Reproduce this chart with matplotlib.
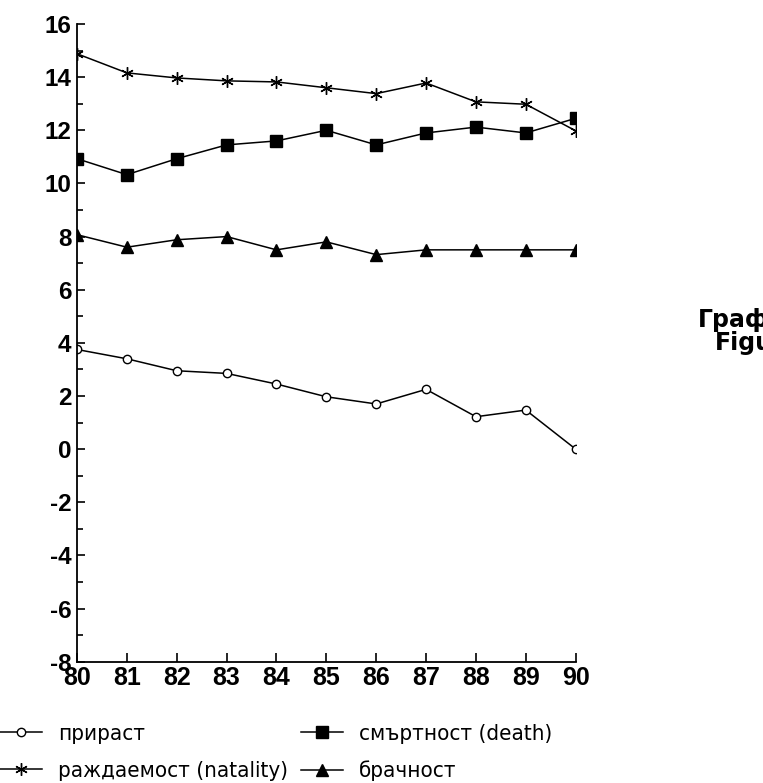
#!/usr/bin/env python3
import matplotlib
matplotlib.use("Agg")
import matplotlib.pyplot as plt
from matplotlib import font_manager as fm
from matplotlib.ticker import MultipleLocator

years = [80, 81, 82, 83, 84, 85, 86, 87, 88, 89, 90]
growth = [3.75, 3.4, 2.95, 2.85, 2.45, 1.97, 1.7, 2.25, 1.22, 1.47, 0.0]
natality = [14.88, 14.16, 13.97, 13.86, 13.82, 13.6, 13.38, 13.78, 13.07, 12.98, 11.98]
death = [10.93, 10.33, 10.93, 11.45, 11.6, 12.0, 11.45, 11.9, 12.12, 11.9, 12.45]
marriage = [8.07, 7.6, 7.88, 8.0, 7.5, 7.8, 7.32, 7.5, 7.5, 7.5, 7.5]

labels = ["прираст", "раждаемост (natality)", "смъртност (death)", "брачност"]
side_text = ["График", "Figure"]

plt.rcParams["axes.unicode_minus"] = False

# look for a narrow sans for the legend, the original text is condensed
legend_prop = {"family": "Liberation Sans", "size": 15}
for f in fm.fontManager.ttflist:
    if f.name == "Liberation Sans Narrow":
        legend_prop = {"family": "Liberation Sans Narrow", "size": 17}
        break
else:
    for f in fm.fontManager.ttflist:
        if f.name == "DejaVu Sans" and "condensed" in str(f.stretch).lower():
            legend_prop = {"family": "DejaVu Sans", "stretch": "condensed", "size": 16}
            break
tick_font = "Liberation Sans"

fig = plt.figure(figsize=(7.63, 7.83), dpi=100)
ax = fig.add_axes([77 / 763, 1 - 661.7 / 783, (575.7 - 77) / 763, (661.7 - 24) / 783])

lw = 1.1
l_growth, = ax.plot(years, growth, color="black", lw=lw, marker="o", ms=6,
                    mfc="white", mec="black", mew=1.0)
l_nat, = ax.plot(years, natality, color="black", lw=lw, marker=(6, 2, 0), ms=9, mew=1.0)
l_death, = ax.plot(years, death, color="black", lw=lw, marker="s", ms=9)
l_mar, = ax.plot(years, marriage, color="black", lw=lw, marker="^", ms=9)

ax.set_xlim(80, 90)
ax.set_ylim(-8, 16)
ax.set_xticks(years)
ax.set_xticklabels([str(y) for y in years])
ax.yaxis.set_major_locator(MultipleLocator(2))
ax.yaxis.set_minor_locator(MultipleLocator(1))

for s in ["top", "right"]:
    ax.spines[s].set_visible(False)
for s in ["left", "bottom"]:
    ax.spines[s].set_linewidth(1.3)

ax.tick_params(axis="y", which="major", direction="in", length=6, width=1.2, pad=4)
ax.tick_params(axis="y", which="minor", direction="in", length=4.5, width=1.2)
ax.tick_params(axis="x", which="major", direction="in", length=6.5, width=1.2, pad=3)
for t in ax.get_yticklabels():
    t.set_fontfamily(tick_font)
    t.set_fontweight("bold")
    t.set_fontsize(17.5)
for t in ax.get_xticklabels():
    t.set_fontfamily(tick_font)
    t.set_fontweight("bold")
    t.set_fontsize(18)

fig.legend([l_growth, l_nat, l_death, l_mar], labels, ncol=2,
           loc="upper left", bbox_to_anchor=(0.0, 1 - 724 / 783),
           frameon=False, borderpad=0, borderaxespad=0,
           handlelength=1.9, handletextpad=0.7, columnspacing=0.6,
           labelspacing=0.75, prop=legend_prop)

fig.text(698 / 763, 1 - 327 / 783, side_text[0], fontsize=17, fontweight="bold",
         family="DejaVu Sans", va="baseline", ha="left")
fig.text(715 / 763, 1 - 350 / 783, side_text[1], fontsize=17, fontweight="bold",
         family="DejaVu Sans", va="baseline", ha="left")

fig.savefig("out.png", dpi=100)
